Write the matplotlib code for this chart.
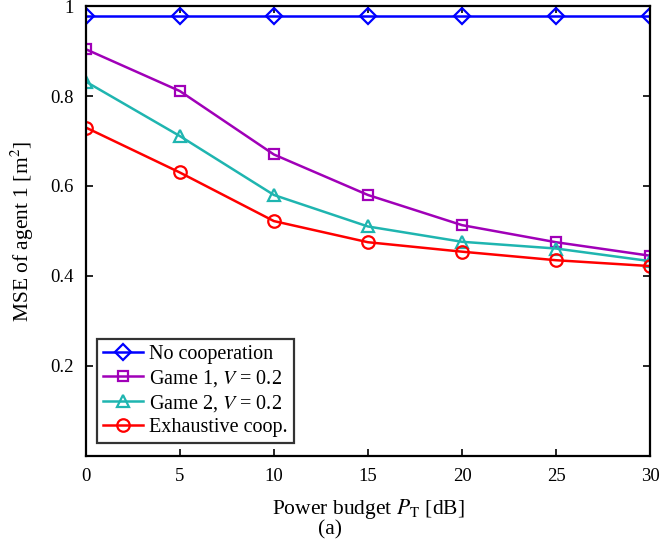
import matplotlib
matplotlib.use("Agg")
import matplotlib.pyplot as plt

plt.rcParams['font.family'] = ['Liberation Serif', 'DejaVu Serif']
plt.rcParams['mathtext.fontset'] = 'stix'

power_db = [0, 5, 10, 15, 20, 25, 30]
no_coop = [0.978, 0.978, 0.978, 0.978, 0.978, 0.978, 0.978]
game1 = [0.904, 0.811, 0.670, 0.580, 0.513, 0.475, 0.445]
game2 = [0.832, 0.711, 0.580, 0.510, 0.476, 0.461, 0.433]
exhaustive = [0.730, 0.630, 0.522, 0.475, 0.454, 0.435, 0.422]

xticks = [0, 5, 10, 15, 20, 25, 30]
yticks = [0.2, 0.4, 0.6, 0.8, 1.0]
ytick_labels = ['0.2', '0.4', '0.6', '0.8', '1']

fig = plt.figure(figsize=(6.6, 5.48), dpi=100)
ax = fig.add_axes([0.130, 0.168, 0.855, 0.821])

mew = 1.6
lw = 1.8
ax.plot(power_db, no_coop, color='#0000ff', marker='D', ms=8, mfc='none', mew=mew, lw=lw,
        label='No cooperation')
ax.plot(power_db, game1, color='#a000b8', marker='s', ms=7.5, mfc='none', mew=mew, lw=lw,
        label=r'Game 1, $V$ = 0.2')
ax.plot(power_db, game2, color='#1fb5b0', marker='^', ms=9, mfc='none', mew=mew, lw=lw,
        label=r'Game 2, $V$ = 0.2')
ax.plot(power_db, exhaustive, color='#ff0000', marker='o', ms=9, mfc='none', mew=mew, lw=lw,
        label='Exhaustive coop.')

ax.set_xlim(0, 30)
ax.set_ylim(0, 1)
ax.set_xticks(xticks)
ax.set_yticks(yticks)
ax.set_yticklabels(ytick_labels)
ax.tick_params(direction='in', length=5, width=1.2, top=True, right=True, labelsize=13.5, pad=9)
for s in ax.spines.values():
    s.set_linewidth(1.6)

ax.set_xlabel(r'Power budget $P_{\mathrm{T}}$ [dB]', fontsize=15.5, labelpad=8)
ax.set_ylabel(r'MSE of agent 1 [m$^2$]', fontsize=15.5, labelpad=10)

leg = ax.legend(loc='lower left', bbox_to_anchor=(0.019, 0.029), borderaxespad=0,
                fontsize=14.5, frameon=True, fancybox=False, edgecolor='black',
                handlelength=2.0, borderpad=0.3, labelspacing=0.2, handletextpad=0.3)
leg.get_frame().set_linewidth(1.6)

fig.text(0.5, 0.033, '(a)', ha='center', va='center', fontsize=15.5)

fig.savefig('out.png', dpi=100)
